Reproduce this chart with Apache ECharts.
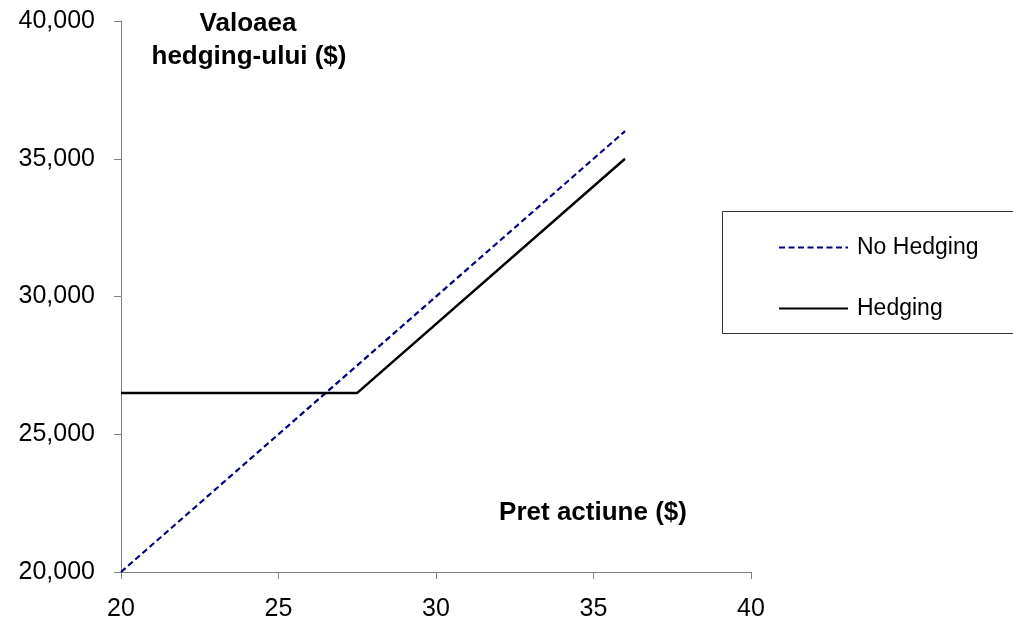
<!DOCTYPE html>
<html><head><meta charset="utf-8">
<script src="https://cdn.jsdelivr.net/npm/echarts@6/dist/echarts.min.js"></script>
<style>html,body{margin:0;padding:0;background:#fff}#c{width:1013px;height:623px}</style>
</head><body><div id="c"></div>
<script>
const xTicks = [20, 25, 30, 35, 40];
const yTicks = [20000, 25000, 30000, 35000, 40000];
const noHedgingX = [20, 36];
const noHedgingY = [20000, 36000];
const hedgingX = [20, 27.5, 36];
const hedgingY = [26500, 26500, 35000];
const seriesNames = ['No Hedging', 'Hedging'];
const yTitleLines = ['Valoaea', 'hedging-ului ($)'];
const xTitle = 'Pret actiune ($)';

const pair = (xs, ys) => xs.map((x, i) => [x, ys[i]]);
const FONT = '"Liberation Sans", Arial, sans-serif';
const titleStyle = (t) => ({ text: t, fill: '#000', font: 'bold 26px ' + FONT, align: 'center', verticalAlign: 'middle' });
const chart = echarts.init(document.getElementById('c'));
chart.setOption({
  animation: false,
  backgroundColor: '#fff',
  grid: { left: 121, right: 262, top: 21, bottom: 51 },
  graphic: [
    { type: 'text', x: 248, y: 24, style: titleStyle(yTitleLines[0]), z: 10 },
    { type: 'text', x: 249, y: 57, style: titleStyle(yTitleLines[1]), z: 10 },
    { type: 'text', x: 593, y: 513, style: titleStyle(xTitle), z: 10 },
    { type: 'rect', x: 722.5, y: 211.5, shape: { x: 0, y: 0, width: 300, height: 122 },
      style: { fill: 'none', stroke: '#333', lineWidth: 1 }, z: 0 }
  ],
  legend: {
    orient: 'vertical', left: 773, top: 231, itemWidth: 69, itemHeight: 22, itemGap: 38,
    itemStyle: { color: 'rgba(0,0,0,0)', borderWidth: 0, opacity: 0 },
    textStyle: { fontFamily: FONT, fontSize: 23, color: '#000', padding: [0, 0, 0, 4] },
    data: seriesNames.map(n => ({ name: n }))
  },
  xAxis: {
    type: 'value', min: xTicks[0], max: xTicks[xTicks.length - 1], interval: 5,
    axisLine: { lineStyle: { color: '#808080', width: 1 } },
    axisTick: { show: true, length: 7, lineStyle: { color: '#808080' } },
    splitLine: { show: false },
    axisLabel: { fontFamily: FONT, fontSize: 25, color: '#000', margin: 25 }
  },
  yAxis: {
    type: 'value', min: yTicks[0], max: yTicks[yTicks.length - 1], interval: 5000,
    axisLine: { show: true, lineStyle: { color: '#808080', width: 1 } },
    axisTick: { show: true, length: 7, lineStyle: { color: '#808080' } },
    splitLine: { show: false },
    axisLabel: { fontFamily: FONT, fontSize: 25, color: '#000', margin: 26,
      formatter: v => v.toLocaleString('en-US') }
  },
  series: [
    { name: seriesNames[0], type: 'line', data: pair(noHedgingX, noHedgingY), showSymbol: false, symbol: 'none',
      lineStyle: { color: '#000080', width: 2.2, type: [6, 3.5] }, itemStyle: { color: '#000080' } },
    { name: seriesNames[1], type: 'line', data: pair(hedgingX, hedgingY), showSymbol: false, symbol: 'none',
      lineStyle: { color: '#000', width: 2.5, type: 'solid' }, itemStyle: { color: '#000' } }
  ]
});
</script></body></html>
